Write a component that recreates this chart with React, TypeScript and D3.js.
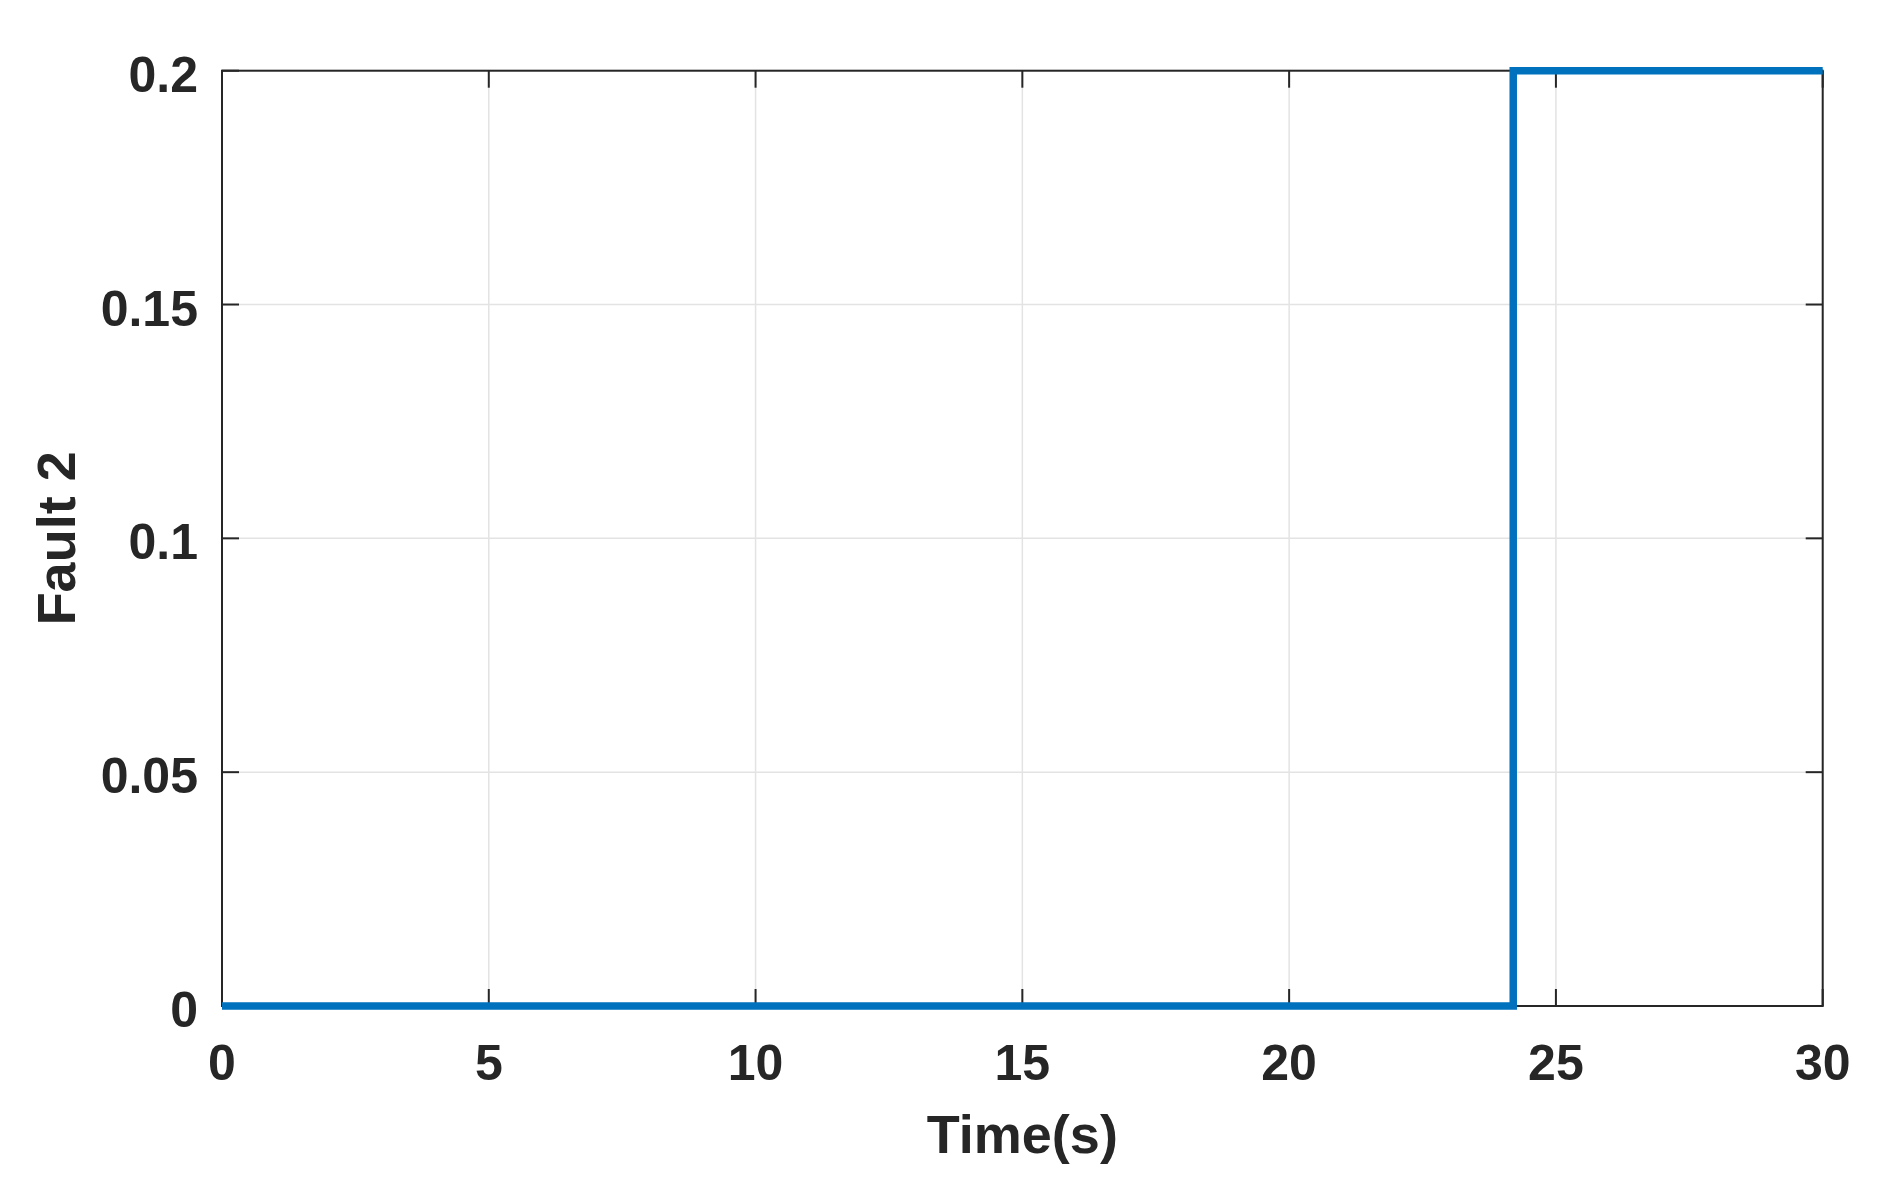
import React, { useEffect } from "react";
import * as d3 from "d3";

// step signal
const times = [0, 24.2, 30];
const faultValues = [0, 0.2, 0.2];

const xTicks = [0, 5, 10, 15, 20, 25, 30];
const yTicks = [0, 0.05, 0.1, 0.15, 0.2];
const yTickLabels = ["0", "0.05", "0.1", "0.15", "0.2"];

const xLabel = "Time(s)";
const yLabel = "Fault 2";

const App = () => {
  const width = 1901;
  const height = 1197;
  const margin = { top: 70.7, right: 78.3, bottom: 191, left: 222 };
  const innerW = width - margin.left - margin.right;
  const innerH = height - margin.top - margin.bottom;

  useEffect(() => {
    document.body.style.margin = "0";
  }, []);

  const x = d3.scaleLinear().domain([0, 30]).range([0, innerW]);
  const y = d3.scaleLinear().domain([0, 0.2]).range([innerH, 0]);

  const pts = times.map((t, i) => [t, faultValues[i]] as [number, number]);
  const line = d3
    .line<[number, number]>()
    .x((d) => x(d[0]))
    .y((d) => y(d[1]))
    .curve(d3.curveStepAfter);

  const axisColor = "#262626";
  const gridColor = "#e3e3e3";
  const font = "'Liberation Sans', Arial, sans-serif";
  const tickLen = 17;

  return (
    <svg width={width} height={height} style={{ display: "block", background: "#fff" }}>
      <g transform={`translate(${margin.left},${margin.top})`}>
        {/* grid */}
        {xTicks.map((t) => (
          <line key={"gx" + t} x1={x(t)} x2={x(t)} y1={0} y2={innerH} stroke={gridColor} strokeWidth={1.5} />
        ))}
        {yTicks.map((t) => (
          <line key={"gy" + t} x1={0} x2={innerW} y1={y(t)} y2={y(t)} stroke={gridColor} strokeWidth={1.5} />
        ))}

        {/* ticks, inward on all four sides */}
        {xTicks.map((t) => (
          <g key={"tx" + t}>
            <line x1={x(t)} x2={x(t)} y1={innerH} y2={innerH - tickLen} stroke={axisColor} strokeWidth={2} />
            <line x1={x(t)} x2={x(t)} y1={0} y2={tickLen} stroke={axisColor} strokeWidth={2} />
            <text
              x={x(t)}
              y={innerH + 74}
              textAnchor="middle"
              fontFamily={font}
              fontWeight="bold"
              fontSize={50}
              fill={axisColor}
            >
              {t}
            </text>
          </g>
        ))}
        {yTicks.map((t, i) => (
          <g key={"ty" + t}>
            <line x1={0} x2={tickLen} y1={y(t)} y2={y(t)} stroke={axisColor} strokeWidth={2} />
            <line x1={innerW - tickLen} x2={innerW} y1={y(t)} y2={y(t)} stroke={axisColor} strokeWidth={2} />
            <text
              x={-24}
              y={y(t) + 21}
              textAnchor="end"
              fontFamily={font}
              fontWeight="bold"
              fontSize={50}
              fill={axisColor}
            >
              {yTickLabels[i]}
            </text>
          </g>
        ))}

        {/* box */}
        <rect x={0} y={0} width={innerW} height={innerH} fill="none" stroke={axisColor} strokeWidth={2} />

        {/* signal */}
        <path d={line(pts) || ""} fill="none" stroke="#0072BD" strokeWidth={7.5} />

        {/* labels */}
        <text
          x={innerW / 2}
          y={innerH + 147}
          textAnchor="middle"
          fontFamily={font}
          fontWeight="bold"
          fontSize={54}
          fill={axisColor}
        >
          {xLabel}
        </text>
        <text
          transform={`translate(${75 - margin.left},${innerH / 2}) rotate(-90)`}
          textAnchor="middle"
          fontFamily={font}
          fontWeight="bold"
          fontSize={54}
          fill={axisColor}
        >
          {yLabel}
        </text>
      </g>
    </svg>
  );
};

export default App;
